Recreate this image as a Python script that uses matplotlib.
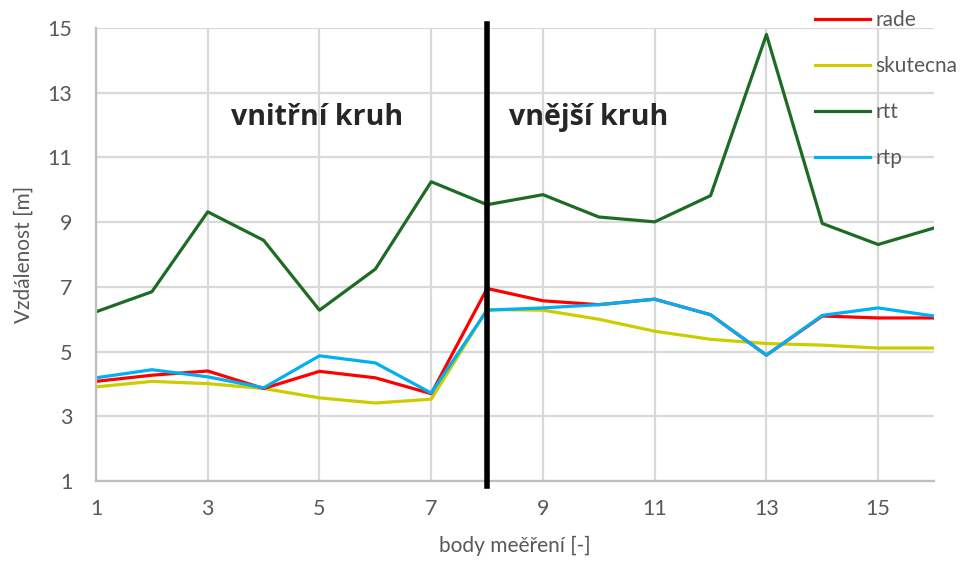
import matplotlib.pyplot as plt

# measurement points and distances [m]
body = list(range(1, 17))
rade = [4.08, 4.27, 4.40, 3.86, 4.39, 4.19, 3.70, 6.95,
        6.57, 6.45, 6.62, 6.14, 4.89, 6.10, 6.04, 6.04]
skutecna = [3.91, 4.08, 4.01, 3.86, 3.57, 3.41, 3.53, 6.30,
            6.28, 6.00, 5.63, 5.38, 5.25, 5.20, 5.11, 5.11]
rtt = [6.23, 6.85, 9.32, 8.44, 6.28, 7.55, 10.25, 9.54,
       9.85, 9.16, 9.01, 9.82, 14.80, 8.96, 8.31, 8.82]
rtp = [4.19, 4.44, 4.22, 3.88, 4.87, 4.65, 3.72, 6.28,
       6.35, 6.45, 6.62, 6.14, 4.89, 6.12, 6.35, 6.10]

x_ticks = list(range(1, 16, 2))
y_ticks = list(range(1, 16, 2))
hranice = 8  # boundary between inner and outer circle

plt.rcParams['font.family'] = ['Lato', 'DejaVu Sans']

fig = plt.figure(figsize=(9.66, 5.63), dpi=100)
ax = fig.add_axes([0.0994, 0.1456, 0.8675, 0.8046])

l_rtt, = ax.plot(body, rtt, color='#1e6b23', lw=2.3, label='rtt')
l_sk, = ax.plot(body, skutecna, color='#cccc00', lw=2.3, label='skutecna')
l_rade, = ax.plot(body, rade, color='#ff0000', lw=2.3, label='rade')
l_rtp, = ax.plot(body, rtp, color='#00b0f0', lw=2.3, label='rtp')

ax.axvline(hranice, ymin=-0.01, ymax=1.01, color='black', lw=4, clip_on=False, zorder=5)

ax.text(4.95, 12.25, 'vnitřní kruh', fontsize=20.5, fontweight='bold',
        family=['Open Sans', 'DejaVu Sans'],
        ha='center', va='center', color='#262626')
ax.text(9.82, 12.25, 'vnější kruh', fontsize=20.5, fontweight='bold',
        family=['Open Sans', 'DejaVu Sans'],
        ha='center', va='center', color='#262626')

ax.set_xlim(1, 16)
ax.set_ylim(1, 15)
ax.set_xticks(x_ticks)
ax.set_yticks(y_ticks)
ax.grid(True, color='#d9d9d9', lw=1.6)
ax.set_axisbelow(True)
for s in ['top', 'right']:
    ax.spines[s].set_visible(False)
for s in ['left', 'bottom']:
    ax.spines[s].set_color('#bfbfbf')
    ax.spines[s].set_linewidth(1.6)
ax.tick_params(length=0, labelsize=15.5, colors='#595959')
ax.tick_params(axis='y', pad=17)
ax.tick_params(axis='x', pad=13)

ax.set_xlabel('body meěření [-]', fontsize=15, color='#595959', labelpad=12)
ax.set_ylabel('Vzdálenost [m]', fontsize=15, color='#595959', labelpad=10)

fig.legend(handles=[l_rade, l_sk, l_rtt, l_rtp], loc='upper left',
           bbox_to_anchor=(815 / 966, 1 - 10 / 563), frameon=False,
           fontsize=15, handlelength=2.65, handletextpad=0.25,
           labelspacing=1.25, borderpad=0, borderaxespad=0,
           labelcolor='#595959')

fig.savefig('out.png', dpi=100)
